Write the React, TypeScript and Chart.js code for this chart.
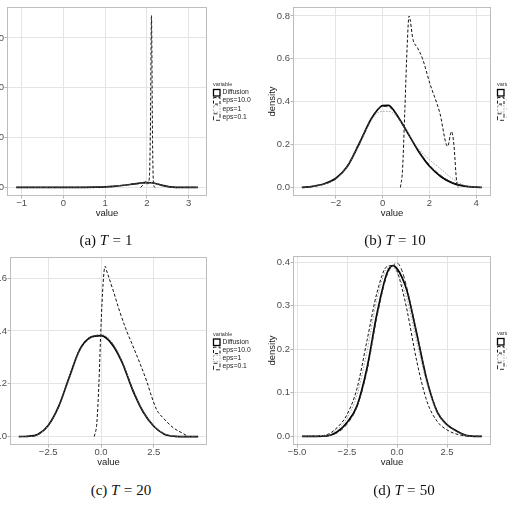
import React, { useEffect, useRef } from "react";
import { Chart, registerables } from "chart.js";

Chart.register(...registerables);

const seriesNames = ["Diffusion", "eps=10.0", "eps=1", "eps=0.1"];
const legendTitle = "variable";
const xTitle = "value";
const yTitle = "density";

// (a) T = 1
const aX = [-1.13, -0.5, 0, 0.5, 0.8, 1.0, 1.2, 1.4, 1.6, 1.8, 1.95, 2.1, 2.25, 2.4, 2.55, 2.7, 3.0, 3.22];
const aDiffusion = [0, 0.001, 0.004, 0.02, 0.06, 0.12, 0.22, 0.38, 0.58, 0.82, 0.97, 0.93, 0.68, 0.34, 0.1, 0.02, 0.001, 0];
const aEps1 = [0, 0.001, 0.005, 0.025, 0.07, 0.13, 0.24, 0.4, 0.6, 0.85, 1.02, 0.95, 0.66, 0.32, 0.09, 0.02, 0.001, 0];
const aEps01 = [0, 0.001, 0.004, 0.022, 0.065, 0.125, 0.23, 0.39, 0.59, 0.84, 1.0, 0.96, 0.7, 0.35, 0.1, 0.02, 0.001, 0];
const aEps10X = [1.85, 1.92, 1.97, 2.02, 2.06, 2.085, 2.11, 2.135, 2.16, 2.2];
const aEps10 = [0, 0.6, 1.2, 0.7, 2.0, 12.0, 34.5, 10.0, 0.5, 0];
const aXLimits = [-1.35, 3.44];
const aYLimits = [-1.73, 36.2];
const aXTicks = [-1, 0, 1, 2, 3];
const aXTickLabels = ["\u22121", "0", "1", "2", "3"];
const aYTicks = [0, 10, 20, 30];
const aYTickLabels = ["0", "10", "20", "30"];

// (b) T = 10
const bX = [-3.46, -3.0, -2.5, -2.0, -1.5, -1.0, -0.5, -0.25, 0, 0.25, 0.5, 1.0, 1.5, 2.0, 2.5, 3.0, 3.5, 4.0, 4.25];
const bDiffusion = [0, 0.005, 0.017, 0.043, 0.1, 0.205, 0.318, 0.358, 0.382, 0.383, 0.356, 0.268, 0.175, 0.1, 0.05, 0.02, 0.006, 0.001, 0];
const bEps1 = [0, 0.004, 0.015, 0.04, 0.1, 0.2, 0.31, 0.345, 0.355, 0.355, 0.342, 0.27, 0.185, 0.13, 0.085, 0.04, 0.01, 0.001, 0];
const bEps01 = [0, 0.005, 0.016, 0.042, 0.105, 0.21, 0.32, 0.36, 0.378, 0.376, 0.352, 0.265, 0.178, 0.105, 0.055, 0.022, 0.007, 0.001, 0];
const bEps10X = [0.76, 0.85, 0.95, 1.05, 1.13, 1.3, 1.5, 1.71, 2.02, 2.45, 2.78, 2.95, 3.05, 3.17, 3.24];
const bEps10 = [0, 0.08, 0.36, 0.66, 0.8, 0.69, 0.65, 0.6, 0.486, 0.347, 0.192, 0.261, 0.2, 0.025, 0];
const bXLimits = [-3.84, 4.64];
const bYLimits = [-0.04, 0.842];
const bXTicks = [-2, 0, 2, 4];
const bXTickLabels = ["\u22122", "0", "2", "4"];
const bYTicks = [0, 0.2, 0.4, 0.6, 0.8];
const bYTickLabels = ["0.0", "0.2", "0.4", "0.6", "0.8"];

// (c) T = 20
const cX = [-3.89, -3.5, -3.0, -2.5, -2.0, -1.5, -1.0, -0.5, 0, 0.5, 1.0, 1.5, 2.0, 2.5, 3.0, 3.5, 4.0, 4.6];
const cDiffusion = [0, 0.001, 0.008, 0.042, 0.115, 0.225, 0.33, 0.375, 0.382, 0.352, 0.281, 0.176, 0.093, 0.039, 0.009, 0.001, 0, 0];
const cEps1 = [0, 0, 0.007, 0.042, 0.112, 0.222, 0.325, 0.372, 0.386, 0.36, 0.285, 0.18, 0.095, 0.04, 0.011, 0.002, 0, 0];
const cEps01 = [0, 0, 0.006, 0.041, 0.113, 0.228, 0.333, 0.378, 0.384, 0.355, 0.283, 0.181, 0.094, 0.04, 0.01, 0.001, 0, 0];
const cEps10X = [-0.32, -0.2, -0.1, 0.0, 0.1, 0.19, 0.27, 0.58, 0.9, 1.21, 1.53, 1.85, 2.17, 2.4, 2.64, 2.95, 3.43, 3.9, 4.14];
const cEps10 = [0, 0.05, 0.2, 0.42, 0.58, 0.645, 0.627, 0.552, 0.47, 0.401, 0.339, 0.276, 0.208, 0.151, 0.101, 0.07, 0.033, 0.011, 0];
const cXLimits = [-4.31, 5.02];
const cYLimits = [-0.032, 0.68];
const cXTicks = [-2.5, 0, 2.5];
const cXTickLabels = ["\u22122.5", "0.0", "2.5"];
const cYTicks = [0, 0.2, 0.4, 0.6];
const cYTickLabels = ["0.0", "0.2", "0.4", "0.6"];

// (d) T = 50
const dX = [-4.75, -4.0, -3.5, -3.0, -2.5, -2.0, -1.5, -1.0, -0.5, -0.2, 0.0, 0.25, 0.5, 1.0, 1.5, 2.0, 2.5, 3.0, 3.5, 4.25];
const dDiffusion = [0, 0, 0.001, 0.01, 0.032, 0.07, 0.157, 0.282, 0.375, 0.392, 0.385, 0.365, 0.334, 0.233, 0.128, 0.057, 0.027, 0.012, 0.002, 0];
const dEps10 = [0, 0.001, 0.004, 0.02, 0.05, 0.11, 0.22, 0.33, 0.39, 0.392, 0.38, 0.34, 0.29, 0.17, 0.08, 0.035, 0.015, 0.005, 0.001, 0];
const dEps1 = [0, 0.001, 0.004, 0.016, 0.042, 0.095, 0.195, 0.315, 0.385, 0.39, 0.375, 0.35, 0.315, 0.215, 0.12, 0.055, 0.025, 0.01, 0.002, 0];
const dEps01 = [0, 0, 0.001, 0.008, 0.028, 0.068, 0.15, 0.275, 0.37, 0.392, 0.398, 0.38, 0.34, 0.235, 0.13, 0.06, 0.028, 0.011, 0.002, 0];
const dXLimits = [-5.2, 4.7];
const dYLimits = [-0.0197, 0.414];
const dXTicks = [-5, -2.5, 0, 2.5];
const dXTickLabels = ["\u22125.0", "\u22122.5", "0.0", "2.5"];
const dYTicks = [0, 0.1, 0.2, 0.3, 0.4];
const dYTickLabels = ["0.0", "0.1", "0.2", "0.3", "0.4"];

const captionLetters = ["a", "b", "c", "d"];
const captionT = [1, 10, 20, 50];

// Line appearance per series (Diffusion, eps=10.0, eps=1, eps=0.1)
const lineStyles = [
  { color: "#000000", width: 1.7, dash: [] as number[] },
  { color: "#111111", width: 1, dash: [3, 2] },
  { color: "#8a8a8a", width: 0.8, dash: [1.5, 1.5] },
  { color: "#333333", width: 1, dash: [4, 2.5] },
];

const SANS = '"Liberation Sans", Arial, sans-serif';
const AXIS_W = 40;
const AXIS_H = 24;
const PAD_T = 10;
const PAD_R = 70;
const PAD_B = 2;

type Area = { left: number; top: number; right: number; bottom: number };
type Series = { x: number[]; y: number[] };
type PanelDef = {
  area: Area;
  xLimits: number[];
  yLimits: number[];
  xTicks: number[];
  xTickLabels: string[];
  yTicks: number[];
  yTickLabels: string[];
  series: Series[];
  caption: { cx: number; cy: number };
};

const panels: PanelDef[] = [
  {
    area: { left: 7, top: 7, right: 207, bottom: 196 },
    xLimits: aXLimits, yLimits: aYLimits,
    xTicks: aXTicks, xTickLabels: aXTickLabels, yTicks: aYTicks, yTickLabels: aYTickLabels,
    series: [
      { x: aX, y: aDiffusion },
      { x: aEps10X, y: aEps10 },
      { x: aX, y: aEps1 },
      { x: aX, y: aEps01 },
    ],
    caption: { cx: 106, cy: 240 },
  },
  {
    area: { left: 293, top: 7, right: 491, bottom: 196 },
    xLimits: bXLimits, yLimits: bYLimits,
    xTicks: bXTicks, xTickLabels: bXTickLabels, yTicks: bYTicks, yTickLabels: bYTickLabels,
    series: [
      { x: bX, y: bDiffusion },
      { x: bEps10X, y: bEps10 },
      { x: bX, y: bEps1 },
      { x: bX, y: bEps01 },
    ],
    caption: { cx: 395, cy: 240 },
  },
  {
    area: { left: 10, top: 257, right: 207, bottom: 445 },
    xLimits: cXLimits, yLimits: cYLimits,
    xTicks: cXTicks, xTickLabels: cXTickLabels, yTicks: cYTicks, yTickLabels: cYTickLabels,
    series: [
      { x: cX, y: cDiffusion },
      { x: cEps10X, y: cEps10 },
      { x: cX, y: cEps1 },
      { x: cX, y: cEps01 },
    ],
    caption: { cx: 121, cy: 490 },
  },
  {
    area: { left: 293, top: 256, right: 491, bottom: 445 },
    xLimits: dXLimits, yLimits: dYLimits,
    xTicks: dXTicks, xTickLabels: dXTickLabels, yTicks: dYTicks, yTickLabels: dYTickLabels,
    series: [
      { x: dX, y: dDiffusion },
      { x: dX, y: dEps10 },
      { x: dX, y: dEps1 },
      { x: dX, y: dEps01 },
    ],
    caption: { cx: 404, cy: 490 },
  },
];

// Grey panel border drawn over the data, like a light ggplot theme
const panelFrame = {
  id: "panelFrame",
  afterDatasetsDraw(chart: any) {
    const { ctx, chartArea } = chart;
    const { left, top, right, bottom } = chartArea;
    ctx.save();
    ctx.strokeStyle = "#bdbdbd";
    ctx.lineWidth = 1;
    ctx.setLineDash([]);
    ctx.strokeRect(left + 0.5, top + 0.5, right - left - 1, bottom - top - 1);
    ctx.restore();
  },
};

// Legend with outlined keys to the right of the panel
const keyLegend = {
  id: "keyLegend",
  afterDraw(chart: any) {
    const { ctx, chartArea } = chart;
    const x0 = chartArea.right + 6;
    const mid = (chartArea.top + chartArea.bottom) / 2;
    ctx.save();
    ctx.textBaseline = "middle";
    ctx.textAlign = "left";
    ctx.fillStyle = "#333333";
    ctx.font = `5.5px ${SANS}`;
    ctx.fillText(legendTitle, x0, mid - 17);
    chart.data.datasets.forEach((ds: any, i: number) => {
      const cy = mid - 9 + i * 8.1;
      ctx.fillStyle = "#ffffff";
      ctx.fillRect(x0, cy - 3.5, 7, 7);
      ctx.setLineDash(ds.borderDash || []);
      ctx.strokeStyle = ds.borderColor;
      ctx.lineWidth = Math.min(ds.borderWidth, 1.3);
      ctx.strokeRect(x0 + 0.5, cy - 3, 6.5, 6.5);
      ctx.setLineDash([]);
      ctx.fillStyle = "#222222";
      ctx.font = `6.8px ${SANS}`;
      ctx.fillText(ds.label, x0 + 9.5, cy);
    });
    ctx.restore();
  },
};

function DensityPanel({ def }: { def: PanelDef }) {
  const ref = useRef<HTMLCanvasElement | null>(null);
  const { area } = def;
  const left = area.left - AXIS_W;
  const top = area.top - PAD_T;
  const width = area.right - area.left + AXIS_W + PAD_R;
  const height = area.bottom - area.top + PAD_T + AXIS_H + PAD_B;

  useEffect(() => {
    if (!ref.current) return;
    const datasets = def.series.map((s, i) => ({
      label: seriesNames[i],
      data: s.x.map((x, j) => ({ x, y: s.y[j] })),
      borderColor: lineStyles[i].color,
      borderWidth: lineStyles[i].width,
      borderDash: lineStyles[i].dash,
      backgroundColor: "#ffffff",
      fill: false,
      pointRadius: 0,
      cubicInterpolationMode: "monotone" as const,
      order: 3 - i,
    }));
    const tickFont = { family: SANS, size: 9.5, lineHeight: 1 };
    const titleFont = { family: SANS, size: 9.5, lineHeight: 1.2 };
    const chart = new Chart(ref.current, {
      type: "line",
      data: { datasets },
      plugins: [panelFrame, keyLegend],
      options: {
        responsive: false,
        animation: false,
        devicePixelRatio: 1,
        layout: { padding: { left: 0, top: PAD_T, right: PAD_R, bottom: PAD_B } },
        plugins: { legend: { display: false }, tooltip: { enabled: false } },
        scales: {
          x: {
            type: "linear",
            min: def.xLimits[0],
            max: def.xLimits[1],
            afterBuildTicks: (s: any) => {
              s.ticks = def.xTicks.map((v) => ({ value: v }));
            },
            afterFit: (s: any) => {
              s.height = AXIS_H;
            },
            border: { display: false },
            grid: { color: "#e4e4e4", lineWidth: 1, tickLength: 2.5, tickColor: "#b3b3b3" },
            ticks: {
              autoSkip: false,
              maxRotation: 0,
              padding: 0,
              color: "#4d4d4d",
              font: tickFont,
              callback: (v: any) => {
                const k = def.xTicks.indexOf(Number(v));
                return k >= 0 ? def.xTickLabels[k] : "";
              },
            },
            title: { display: true, text: xTitle, color: "#1a1a1a", font: titleFont, padding: { top: 0, bottom: 1 } },
          },
          y: {
            type: "linear",
            min: def.yLimits[0],
            max: def.yLimits[1],
            afterBuildTicks: (s: any) => {
              s.ticks = def.yTicks.map((v) => ({ value: v }));
            },
            afterFit: (s: any) => {
              s.width = AXIS_W;
            },
            border: { display: false },
            grid: { color: "#e4e4e4", lineWidth: 1, tickLength: 2.5, tickColor: "#b3b3b3" },
            ticks: {
              autoSkip: false,
              padding: 0.5,
              color: "#4d4d4d",
              font: tickFont,
              callback: (v: any) => {
                const k = def.yTicks.indexOf(Number(v));
                return k >= 0 ? def.yTickLabels[k] : "";
              },
            },
            title: { display: true, text: yTitle, color: "#1a1a1a", font: titleFont, padding: { top: 13.3, bottom: 0 } },
          },
        },
      } as any,
    });
    return () => chart.destroy();
  }, [def]);

  return (
    <canvas
      ref={ref}
      width={width}
      height={height}
      style={{ position: "absolute", left, top, width, height }}
    />
  );
}

function Caption({ letter, t, cx, cy }: { letter: string; t: number; cx: number; cy: number }) {
  return (
    <div
      style={{
        position: "absolute",
        left: cx,
        top: cy,
        transform: "translate(-50%, -50%)",
        fontFamily: '"Liberation Serif", "DejaVu Serif", serif',
        fontSize: 15,
        lineHeight: 1,
        whiteSpace: "nowrap",
        color: "#111111",
      }}
    >
      ({letter})&nbsp;<i>T</i>
      <span style={{ margin: "0 0.28em" }}>=</span>
      {t}
    </div>
  );
}

export default function App() {
  return (
    <div
      style={{
        position: "fixed",
        left: 0,
        top: 0,
        width: 507,
        height: 508,
        overflow: "hidden",
        background: "#ffffff",
      }}
    >
      {panels.map((p, i) => (
        <DensityPanel key={captionLetters[i]} def={p} />
      ))}
      {panels.map((p, i) => (
        <Caption key={"cap" + i} letter={captionLetters[i]} t={captionT[i]} cx={p.caption.cx} cy={p.caption.cy} />
      ))}
    </div>
  );
}
